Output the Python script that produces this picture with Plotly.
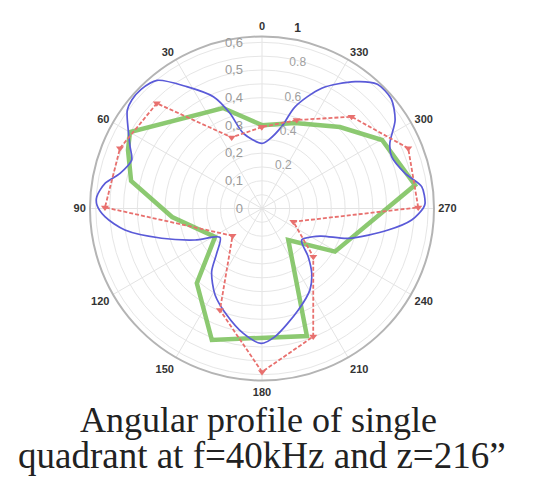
import plotly.graph_objects as go

# Angular direction: 0 at top, increasing counterclockwise (degrees)
blue_theta = [0.3, 14.0, 18.6, 23.5, 31.7, 39.3, 45.4, 50.1, 53.9, 59.6, 64.9, 69.6,
              76.1, 80.9, 85.9, 88.8, 93.0, 98.9, 106.5, 115.2, 124.6, 134.7, 141.5,
              151.5, 161.7, 171.5, 179.6, 185.8, 199.7, 210.5, 217.5, 223.8, 231.6,
              244.6, 250.9, 260.3, 265.6, 270.1, 271.8, 277.8, 283.8, 291.8, 297.0,
              303.6, 310.4, 317.1, 323.7, 333.6, 342.0, 346.5, 354.7, 360.3]
blue_r = [0.235, 0.280, 0.363, 0.440, 0.517, 0.598, 0.613, 0.612, 0.602, 0.560, 0.526,
          0.502, 0.528, 0.574, 0.598, 0.596, 0.568, 0.501, 0.378, 0.267, 0.184, 0.230,
          0.292, 0.355, 0.405, 0.456, 0.487, 0.465, 0.389, 0.341, 0.295, 0.241, 0.183,
          0.232, 0.330, 0.462, 0.542, 0.582, 0.589, 0.582, 0.532, 0.504, 0.518, 0.577,
          0.612, 0.612, 0.568, 0.485, 0.386, 0.304, 0.248, 0.235]

green_theta = [0.0, 21.2, 59.9, 66.4, 78.1, 95.4, 121.2, 138.9, 159.1, 199.4, 219.9,
               239.4, 278.7, 299.7, 316.3, 338.9, 360.0]
green_r = [0.301, 0.389, 0.551, 0.528, 0.483, 0.326, 0.198, 0.358, 0.508, 0.488, 0.148,
           0.306, 0.559, 0.499, 0.407, 0.331, 0.301]

red_theta = [0.2, 23.1, 45.0, 67.0, 89.6, 132.8, 157.5, 180.0, 201.8, 226.8, 247.1,
             270.4, 292.4, 315.7, 338.6, 360.2]
red_r = [0.294, 0.279, 0.537, 0.557, 0.567, 0.145, 0.397, 0.590, 0.498, 0.254, 0.123,
         0.564, 0.571, 0.463, 0.343, 0.294]

# Left radial scale (comma decimals) and right radial scale
left_ticks = [0, 0.05, 0.1, 0.15, 0.2, 0.25, 0.3, 0.35, 0.4, 0.45, 0.5, 0.55, 0.6]
left_text = ["0", "", "0,1", "", "0,2", "", "0,3", "", "0,4", "", "0,5", "", "0,6"]
right_ticks = [0.2, 0.4, 0.6, 0.8, 1.0]
right_text = ["0.2", "0.4", "0.6", "0.8", "<span style='color:#333333'><b>1</b></span>"]
angle_ticks = list(range(0, 360, 30))

title_lines = ["Angular profile of single", "quadrant at f=40kHz and z=216\u201d"]

fig = go.Figure()
fig.add_trace(go.Scatterpolar(
    r=green_r, theta=green_theta, mode="lines",
    line=dict(color="rgba(120,192,88,0.85)", width=4.5), subplot="polar"))
fig.add_trace(go.Scatterpolar(
    r=blue_r, theta=blue_theta, mode="lines",
    line=dict(color="#5a5ad8", width=1.7, shape="spline", smoothing=0.8),
    subplot="polar"))
fig.add_trace(go.Scatterpolar(
    r=red_r, theta=red_theta, mode="lines+markers",
    line=dict(color="#e8706e", width=1.8, dash="4px,2px"),
    marker=dict(symbol="triangle-down", size=7, color="#e8706e"),
    subplot="polar"))
# carrier for the second radial scale
fig.add_trace(go.Scatterpolar(r=[], theta=[], subplot="polar2", showlegend=False))

cx, cy, R = 262, 208.5, 172
W, H = 553, 493
R2 = 185

fig.update_layout(
    width=W, height=H,
    margin=dict(l=0, r=0, t=0, b=0),
    paper_bgcolor="white",
    showlegend=False,
    polar=dict(
        domain=dict(x=[(cx - R) / W, (cx + R) / W],
                    y=[(H - cy - R) / H, (H - cy + R) / H]),
        bgcolor="white",
        radialaxis=dict(
            range=[0, 0.621], tickvals=left_ticks, ticktext=left_text,
            angle=90, side="counterclockwise", tickangle=90,
            showline=False, ticks="outside", ticklen=14, tickcolor="rgba(0,0,0,0)",
            gridcolor="#e6e6e6", gridwidth=1,
            tickfont=dict(family="Arial, Liberation Sans", size=13, color="#9a9a9a")),
        angularaxis=dict(
            rotation=90, direction="counterclockwise",
            tickvals=angle_ticks, ticktext=[str(a) for a in angle_ticks],
            showline=True, linecolor="#b4b4b4", linewidth=2,
            gridcolor="#e3e3e3", gridwidth=1,
            ticks="outside", ticklen=1, tickcolor="rgba(0,0,0,0)",
            tickfont=dict(family="Arial, Liberation Sans", size=11, color="#333333",
                          weight="bold")),
    ),
    polar2=dict(
        domain=dict(x=[(cx - R2) / W, (cx + R2) / W],
                    y=[(H - cy - R2) / H, (H - cy + R2) / H]),
        bgcolor="rgba(0,0,0,0)",
        radialaxis=dict(
            range=[-0.07, 1], tickvals=right_ticks, ticktext=right_text,
            angle=82, side="clockwise", tickangle=82,
            showline=False, showgrid=False, ticks="",
            tickfont=dict(family="Arial, Liberation Sans", size=12, color="#a0a0a0")),
        angularaxis=dict(visible=False),
    ),
    annotations=[
        dict(text=title_lines[0], x=258 / W, y=(H - 420) / H, xref="paper", yref="paper",
             showarrow=False, xanchor="center", yanchor="middle",
             font=dict(family="Liberation Serif", size=36, color="#222222")),
        dict(text=title_lines[1], x=262 / W, y=(H - 455) / H, xref="paper", yref="paper",
             showarrow=False, xanchor="center", yanchor="middle",
             font=dict(family="Liberation Serif", size=37, color="#222222")),
    ],
)

fig.write_html("out.html")
